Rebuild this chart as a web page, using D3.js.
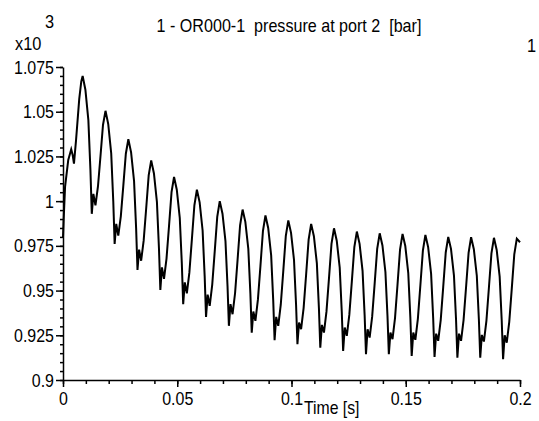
<!DOCTYPE html>
<html>
<head>
<meta charset="utf-8">
<script src="https://cdn.jsdelivr.net/npm/d3@7/dist/d3.min.js"></script>
<style>
    body { margin: 0; background: #fff; }
    svg text { font-family: "Liberation Sans", Arial, sans-serif; fill: #000; }
</style>
</head>
<body>
<svg id="chart"></svg>
<script>
// time [s], one row per oscillation cycle (peak, descent, trough notch, rise)
const timeS = [
    0, 0.0003, 0.0009, 0.0023, 0.0036, 0.0042, 0.0048, 0.0057, 0.0071, 0.0080,
    0.0086, 0.0098, 0.0111, 0.0120, 0.0126, 0.0133, 0.0142, 0.0153, 0.0164, 0.0175,
    0.0186, 0.0198, 0.0211, 0.0220, 0.0226, 0.0233, 0.0242, 0.0253, 0.0264, 0.0275,
    0.0286, 0.0298, 0.0311, 0.0320, 0.0326, 0.0333, 0.0342, 0.0353, 0.0364, 0.0375,
    0.0386, 0.0398, 0.0411, 0.0420, 0.0426, 0.0433, 0.0442, 0.0453, 0.0464, 0.0475,
    0.0486, 0.0498, 0.0511, 0.0520, 0.0526, 0.0533, 0.0542, 0.0553, 0.0564, 0.0575,
    0.0586, 0.0598, 0.0611, 0.0620, 0.0626, 0.0633, 0.0642, 0.0653, 0.0664, 0.0675,
    0.0686, 0.0698, 0.0711, 0.0720, 0.0726, 0.0733, 0.0742, 0.0753, 0.0764, 0.0775,
    0.0786, 0.0798, 0.0811, 0.0820, 0.0826, 0.0833, 0.0842, 0.0853, 0.0864, 0.0875,
    0.0886, 0.0898, 0.0911, 0.0920, 0.0926, 0.0933, 0.0942, 0.0953, 0.0964, 0.0975,
    0.0986, 0.0998, 0.1011, 0.1020, 0.1026, 0.1033, 0.1042, 0.1053, 0.1064, 0.1075,
    0.1086, 0.1098, 0.1111, 0.1120, 0.1126, 0.1133, 0.1142, 0.1153, 0.1164, 0.1175,
    0.1186, 0.1198, 0.1211, 0.1220, 0.1226, 0.1233, 0.1242, 0.1253, 0.1264, 0.1275,
    0.1286, 0.1298, 0.1311, 0.1320, 0.1326, 0.1333, 0.1342, 0.1353, 0.1364, 0.1375,
    0.1386, 0.1398, 0.1411, 0.1420, 0.1426, 0.1433, 0.1442, 0.1453, 0.1464, 0.1475,
    0.1486, 0.1498, 0.1511, 0.1520, 0.1526, 0.1533, 0.1542, 0.1553, 0.1564, 0.1575,
    0.1586, 0.1598, 0.1611, 0.1620, 0.1626, 0.1633, 0.1642, 0.1653, 0.1664, 0.1675,
    0.1686, 0.1698, 0.1711, 0.1720, 0.1726, 0.1733, 0.1742, 0.1753, 0.1764, 0.1775,
    0.1786, 0.1798, 0.1811, 0.1820, 0.1826, 0.1833, 0.1842, 0.1853, 0.1864, 0.1875,
    0.1886, 0.1898, 0.1911, 0.1920, 0.1926, 0.1933, 0.1942, 0.1953, 0.1964, 0.1975,
    0.1986, 0.2000
]

// pressure at port 2 [bar x10^3]
const pressure = [
    0.9800, 0.9900, 1.0080, 1.0230, 1.0290, 1.0260, 1.0210, 1.0340, 1.0570, 1.0670,
    1.0700, 1.0623, 1.0453, 1.0176, 0.9929, 1.0041, 0.9976, 1.0082, 1.0251, 1.0426,
    1.0505, 1.0431, 1.0267, 0.9999, 0.9761, 0.9873, 0.9807, 0.9915, 1.0087, 1.0265,
    1.0346, 1.0273, 1.0112, 0.9849, 0.9615, 0.9729, 0.9667, 0.9779, 0.9959, 1.0144,
    1.0228, 1.0155, 0.9996, 0.9735, 0.9503, 0.9630, 0.9565, 0.9679, 0.9861, 1.0050,
    1.0135, 1.0064, 0.9907, 0.9652, 0.9424, 0.9546, 0.9484, 0.9600, 0.9786, 0.9977,
    1.0064, 0.9993, 0.9836, 0.9581, 0.9353, 0.9477, 0.9415, 0.9532, 0.9719, 0.9912,
    1.0000, 0.9930, 0.9777, 0.9526, 0.9303, 0.9424, 0.9368, 0.9485, 0.9672, 0.9865,
    0.9953, 0.9884, 0.9733, 0.9485, 0.9265, 0.9383, 0.9331, 0.9449, 0.9637, 0.9832,
    0.9920, 0.9850, 0.9697, 0.9445, 0.9222, 0.9353, 0.9303, 0.9421, 0.9609, 0.9804,
    0.9892, 0.9823, 0.9671, 0.9421, 0.9200, 0.9321, 0.9284, 0.9402, 0.9590, 0.9785,
    0.9873, 0.9804, 0.9652, 0.9402, 0.9181, 0.9308, 0.9265, 0.9382, 0.9568, 0.9761,
    0.9848, 0.9779, 0.9628, 0.9382, 0.9162, 0.9293, 0.9247, 0.9364, 0.9550, 0.9743,
    0.9830, 0.9761, 0.9610, 0.9364, 0.9144, 0.9284, 0.9237, 0.9354, 0.9540, 0.9733,
    0.9820, 0.9752, 0.9604, 0.9360, 0.9144, 0.9265, 0.9228, 0.9346, 0.9534, 0.9729,
    0.9817, 0.9749, 0.9598, 0.9353, 0.9134, 0.9265, 0.9225, 0.9342, 0.9530, 0.9723,
    0.9811, 0.9743, 0.9593, 0.9347, 0.9129, 0.9259, 0.9219, 0.9335, 0.9521, 0.9713,
    0.9800, 0.9733, 0.9584, 0.9341, 0.9125, 0.9259, 0.9219, 0.9335, 0.9520, 0.9711,
    0.9798, 0.9731, 0.9583, 0.9340, 0.9125, 0.9252, 0.9215, 0.9331, 0.9517, 0.9708,
    0.9795, 0.9727, 0.9578, 0.9333, 0.9116, 0.9250, 0.9209, 0.9325, 0.9511, 0.9703,
    0.9790, 0.9770
]

const yTickValues = [0.9, 0.925, 0.95, 0.975, 1, 1.025, 1.05, 1.075]
const yTickLabels = ['0.9', '0.925', '0.95', '0.975', '1', '1.025', '1.05', '1.075']
const xTickValues = [0, 0.05, 0.1, 0.15, 0.2]
const xTickLabels = ['0', '0.05', '0.1', '0.15', '0.2']

const title = '1 - OR000-1  pressure at port 2  [bar]'
const xLabel = 'Time [s]'

const MARGIN = {
    top: 67,
    right: 19,
    bottom: 41,
    left: 63
}
const width = 539,
    height = 421,
    boundedWidth = width - MARGIN.left - MARGIN.right,
    boundedHeight = height - MARGIN.top - MARGIN.bottom

const $svg = d3.select('#chart')
    .attr('width', width)
    .attr('height', height)

const xScale = d3.scaleLinear()
    .domain([0, 0.2])
    .range([0, boundedWidth])
const yScale = d3.scaleLinear()
    .domain([0.9, 1.075])
    .range([boundedHeight, 0])

// the original uses a tall, narrow screen font: squeeze Liberation Sans horizontally
function squeeze(sel, sx) {
    sel.each(function () {
        const w = this.getComputedTextLength()
        if (w > 0) {
            d3.select(this)
                .attr('textLength', w * sx)
                .attr('lengthAdjust', 'spacingAndGlyphs')
        }
    })
}

function styleAxis(g) {
    g.selectAll('path, line').attr('stroke', '#000').attr('stroke-width', 1.5)
    g.selectAll('text')
        .attr('font-size', 19)
        .attr('font-family', '"Liberation Sans", Arial, sans-serif')
        .call(squeeze, 0.84)
}

function addText(x, y, txt, size) {
    return $svg.append('text')
        .attr('x', x)
        .attr('y', y)
        .attr('font-size', size)
        .style('white-space', 'pre')
        .text(txt)
}

function drawChart() {
    const $gVis = $svg.append('g')
        .attr('transform', `translate(${MARGIN.left}, ${MARGIN.top})`)

    // minor ticks
    $gVis.append('g')
        .attr('class', 'y-minor')
        .call(d3.axisLeft(yScale).ticks(35).tickSize(3).tickFormat(''))
        .call(g => g.select('.domain').remove())
        .call(styleAxis)
    $gVis.append('g')
        .attr('class', 'x-minor')
        .attr('transform', `translate(0, ${boundedHeight})`)
        .call(d3.axisBottom(xScale).ticks(20).tickSize(4).tickFormat(''))
        .call(g => g.select('.domain').remove())
        .call(styleAxis)

    // major axes
    $gVis.append('g')
        .attr('class', 'y-axis')
        .call(d3.axisLeft(yScale)
            .tickValues(yTickValues)
            .tickFormat((d, i) => yTickLabels[i])
            .tickSize(7)
            .tickSizeOuter(0)
            .tickPadding(2))
        .call(styleAxis)

    $gVis.append('g')
        .attr('class', 'x-axis')
        .attr('transform', `translate(0, ${boundedHeight})`)
        .call(d3.axisBottom(xScale)
            .tickValues(xTickValues)
            .tickFormat((d, i) => xTickLabels[i])
            .tickSize(7)
            .tickSizeOuter(0)
            .tickPadding(5))
        .call(styleAxis)

    const lineGen = d3.line()
        .x(d => xScale(d[0]))
        .y(d => yScale(d[1]))

    $gVis.append('path')
        .datum(d3.zip(timeS, pressure))
        .attr('class', 'pressure-line')
        .attr('d', lineGen)
        .attr('fill', 'none')
        .attr('stroke', '#000')
        .attr('stroke-width', 2)

    // titles
    addText(289, 32, title, 18.5).attr('text-anchor', 'middle').call(squeeze, 0.87)
    addText(15, 50, 'x10', 19).call(squeeze, 0.86)
    addText(45, 28, '3', 19).call(squeeze, 0.86)
    addText(527, 52, '1', 19).call(squeeze, 0.86)
    addText(304, 414, xLabel, 19).call(squeeze, 0.83)
}

drawChart()
</script>
</body>
</html>
